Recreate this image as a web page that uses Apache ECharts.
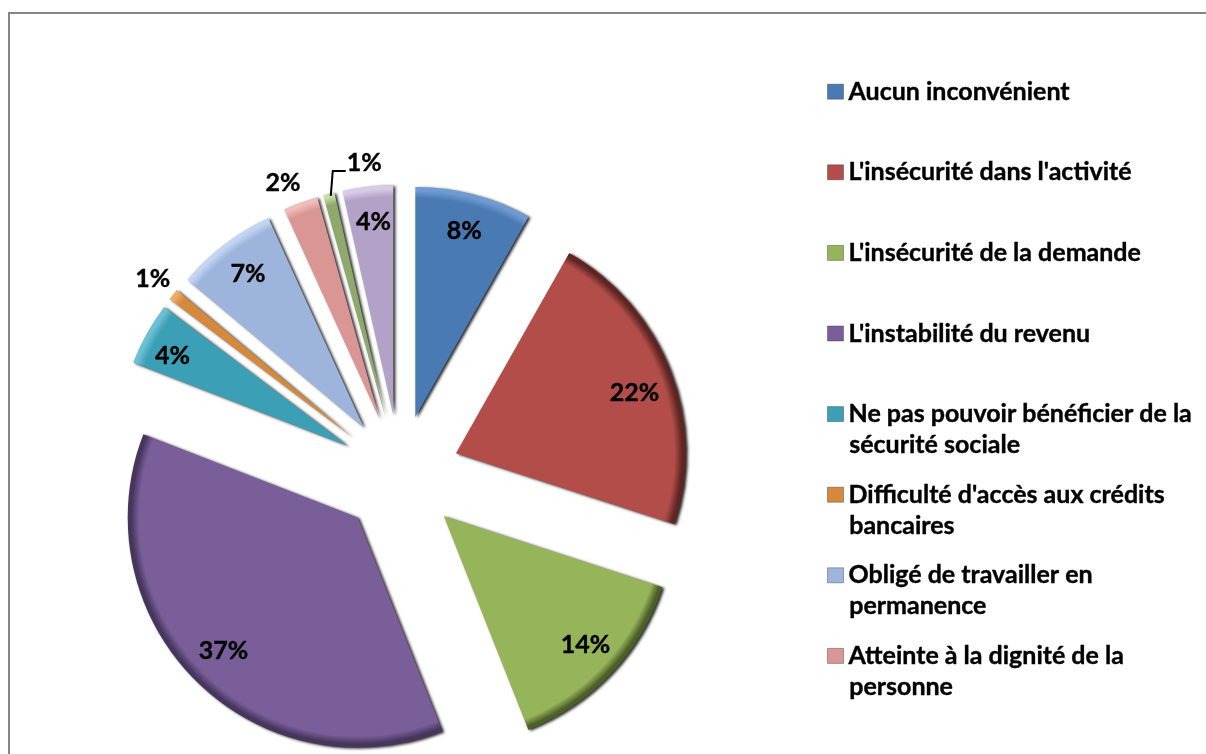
<!DOCTYPE html>
<html>
<head>
<meta charset="utf-8">
<script src="https://cdn.jsdelivr.net/npm/echarts@6/dist/echarts.min.js"></script>
<style>
  html, body { margin: 0; padding: 0; background: #fff; overflow: hidden; }
  #frame { position: absolute; left: 8px; top: 12px; width: 1198px; height: 742px; border-top: 2px solid #868686; border-left: 2px solid #868686; box-sizing: border-box; }
  #chart { position: absolute; left: 0; top: 0; width: 1206px; height: 754px; }
</style>
</head>
<body>
<div id="frame"></div>
<div id="chart"></div>
<script>
// only the first eight entries are readable in the legend
const categories = [
  "Aucun inconvénient",
  "L'insécurité dans l'activité",
  "L'insécurité de la demande",
  "L'instabilité du revenu",
  "Ne pas pouvoir bénéficier de la\nsécurité sociale",
  "Difficulté d'accès aux crédits\nbancaires",
  "Obligé de travailler en\npermanence",
  "Atteinte à la dignité de la\npersonne",
  "Catégorie 9",
  "Catégorie 10",
];
// labels show them rounded
const values = [8.2, 21.8, 14, 36.9, 4.4, 0.8, 7.1, 2.45, 0.8, 3.55];
const colors = ["#4a7ab3", "#b34d49", "#96b55a", "#7a5e99", "#3b9fb6", "#d6883c", "#9db5dc", "#d99694", "#8fa86b", "#b3a2c7"];
const edgeColors = ["#6f9bd3", "#5e2522", "#4c5f28", "#46355c", "#6cc0d4", "#f0aa66", "#c2d5f2", "#f0bdbb", "#c9dcab", "#d8cbe8"];

const CX = 400, CY = 475, R = 230, EXPLODE = 60;
const FONT = { fontFamily: "Lato", fontWeight: "bold", fontSize: 25 };
const total = values.reduce((a, b) => a + b, 0);

// direction of the middle of every slice, clockwise from 12 o'clock
let acc = 0;
const midDir = values.map((v) => {
  const a = ((acc + v / 2) / total) * Math.PI * 2;
  acc += v;
  return [Math.sin(a), -Math.cos(a)];
});

// label centres on the page for the thin slices, small nudges for the others
const nudges = { 0: [-1, 3], 1: [-4, 11], 2: [-1, -5], 3: [4, -6], 4: [-4, 6], 6: [3, 3], 9: [2, 1] };
const outside = { 5: [155, 281], 7: [284, 186], 8: [365, 166] };

// leader of the small green slice, from the tip of its arc
const tip = [CX + midDir[8][0] * (R + EXPLODE) + 2, CY + midDir[8][1] * (R + EXPLODE) + 2];

const chart = echarts.init(document.getElementById("chart"));
chart.setOption({
  animation: false,
  legend: {
    orient: "vertical",
    left: 827,
    top: 79,
    padding: 0,
    itemWidth: 16,
    itemHeight: 15,
    itemGap: 55.2,
    selectedMode: false,
    icon: "rect",
    data: categories.slice(0, 8).map((name, i) => ({
      name: name,
      itemStyle: { color: colors[i], borderColor: "#33333366", borderWidth: 1, shadowBlur: 0 },
    })),
    formatter: (name) => name.split("\n")[0],
    textStyle: { ...FONT, lineHeight: 24, color: "#000", textBorderColor: "#000", textBorderWidth: 0.4 },
  },
  graphic: categories
    .slice(0, 8)
    .map((name, i) => {
      const second = name.split("\n")[1];
      return second
        ? {
            type: "text",
            left: 849,
            top: 79 + i * 80.4 + 32,
            style: { text: second, ...FONT, fill: "#000", stroke: "#000", lineWidth: 0.4 },
          }
        : { type: "group" };
    })
    .concat([
      {
        type: "polyline",
        z: 10,
        shape: { points: [tip, [tip[0] + 2, tip[1] - 25], [tip[0] + 15, tip[1] - 25]] },
        style: { fill: null, stroke: "#000", lineWidth: 2 },
      },
    ]),
  series: [
    {
      type: "pie",
      center: [CX, CY],
      radius: [0, R],
      startAngle: 90,
      clockwise: true,
      selectedMode: "multiple",
      selectedOffset: EXPLODE,
      minShowLabelAngle: 0,
      emphasis: { disabled: true },
      avoidLabelOverlap: false,
      label: {
        position: "inside",
        formatter: (p) => Math.round(p.value) + "%",
        ...FONT,
        color: "#000",
        textBorderColor: "#000",
        textBorderWidth: 0.4,
      },
      labelLine: { show: false },
      labelLayout: (p) => {
        const d = midDir[p.dataIndex];
        const o = outside[p.dataIndex];
        if (o) {
          // an inside label starts half a radius out from the moved slice's apex
          return { dx: o[0] - (CX + d[0] * (EXPLODE + R / 2)), dy: o[1] - (CY + d[1] * (EXPLODE + R / 2)) };
        }
        const n = nudges[p.dataIndex];
        return { dx: d[0] * 78 + n[0], dy: d[1] * 78 + n[1] };
      },
      data: categories.map((name, i) => ({
        name: name,
        value: values[i],
        selected: true,
        itemStyle: {
          color: {
            type: "radial",
            x: CX,
            y: CY,
            r: R,
            global: true,
            colorStops: [
              { offset: 0, color: colors[i] },
              { offset: 0.95, color: colors[i] },
              { offset: 0.985, color: edgeColors[i] },
              { offset: 1, color: edgeColors[i] },
            ],
          },
          shadowColor: "rgba(0,0,0,0.85)",
          shadowBlur: 3,
          shadowOffsetX: 2,
          shadowOffsetY: 1,
        },
      })),
    },
  ],
});
</script>
</body>
</html>
